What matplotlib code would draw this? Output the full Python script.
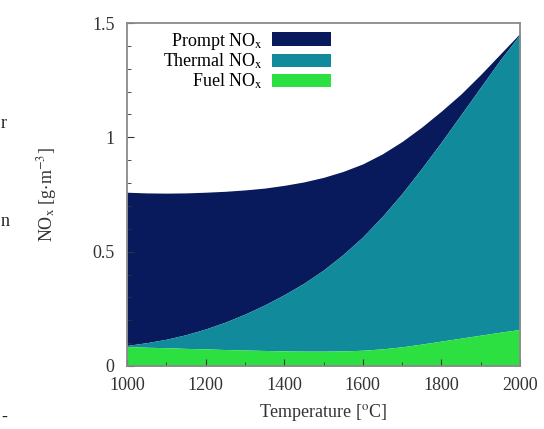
import numpy as np
import matplotlib
matplotlib.use('Agg')
import matplotlib.pyplot as plt
from matplotlib.patches import Patch
from matplotlib.ticker import MultipleLocator

plt.rcParams['font.family'] = 'Liberation Serif'
plt.rcParams['mathtext.fontset'] = 'stix'

# temperature [C]
temperature = [1000, 1050, 1100, 1150, 1200, 1250, 1300, 1350, 1400, 1450, 1500,
               1550, 1600, 1650, 1700, 1750, 1800, 1850, 1900, 1950, 2000]

# upper edge of each stacked band [g/m3]
fuel_top = [0.085, 0.082, 0.080, 0.077, 0.075, 0.072, 0.070, 0.068, 0.066, 0.065, 0.065,
            0.066, 0.069, 0.075, 0.084, 0.096, 0.109, 0.122, 0.135, 0.148, 0.160]
thermal_top = [0.09, 0.102, 0.117, 0.137, 0.162, 0.192, 0.227, 0.267, 0.312, 0.362, 0.42,
               0.488, 0.565, 0.655, 0.755, 0.865, 0.98, 1.10, 1.22, 1.34, 1.45]
prompt_top = [0.76, 0.757, 0.756, 0.757, 0.76, 0.764, 0.77, 0.778, 0.79, 0.805, 0.825,
              0.851, 0.884, 0.928, 0.982, 1.045, 1.115, 1.19, 1.275, 1.365, 1.455]

labels = ['Prompt NO$_\\mathrm{x}$', 'Thermal NO$_\\mathrm{x}$', 'Fuel NO$_\\mathrm{x}$']
colors = ['#081a5c', '#118a9c', '#2be040']

yticks = [0, 0.5, 1, 1.5]
yticklabels = ['0', '0.5', '1', '1.5']
xticks = [1000, 1200, 1400, 1600, 1800, 2000]

T = np.array(temperature)
fuel = np.array(fuel_top)
thermal = np.array(thermal_top)
prompt = np.array(prompt_top)

fig = plt.figure(figsize=(5.44, 4.29), dpi=100)
ax = fig.add_axes([127/544, 1-366/429, 393/544, 343/429])

ax.fill_between(T, thermal, prompt, color=colors[0], lw=0)
ax.fill_between(T, fuel, thermal, color=colors[1], lw=0)
ax.fill_between(T, 0, fuel, color=colors[2], lw=0)

ax.set_xlim(1000, 2000)
ax.set_ylim(0, 1.5)
ax.set_xticks(xticks)
ax.set_yticks(yticks)
ax.set_yticklabels(yticklabels)
ax.xaxis.set_minor_locator(MultipleLocator(100))
ax.yaxis.set_minor_locator(MultipleLocator(0.1))
ax.tick_params(which='both', direction='in', labelsize=13, colors='#333333')
ax.tick_params(which='major', length=5)
ax.tick_params(which='minor', length=3)
ax.tick_params(axis='x', pad=8)
ax.tick_params(axis='y', pad=9)
for s in ax.spines.values():
    s.set_color('#8a8a8a')
    s.set_linewidth(1.3)

ax.set_xlabel('Temperature [$^\\mathrm{o}$C]', fontsize=13, color='#333333', labelpad=6)
ax.set_ylabel('NO$_\\mathrm{x}$ [g$\\cdot$m$^{-3}$]', fontsize=13, color='#333333', labelpad=24)

handles = [Patch(facecolor=c, edgecolor='none') for c in colors]
ax.legend(handles, labels, loc='upper right', bbox_to_anchor=(0.52, 0.978),
          frameon=False, markerfirst=False, fontsize=13, borderpad=0,
          borderaxespad=0, handlelength=3.3, handleheight=0.78,
          handletextpad=0.5, labelspacing=0.02)

# stray fragments of surrounding page text
for ypix, s in [(123, 'r'), (222, 'n'), (417, '-')]:
    fig.text(0.002, 1-ypix/429, s, fontsize=13, va='center', ha='left', color='#222222')

fig.savefig('out.png', dpi=100)
